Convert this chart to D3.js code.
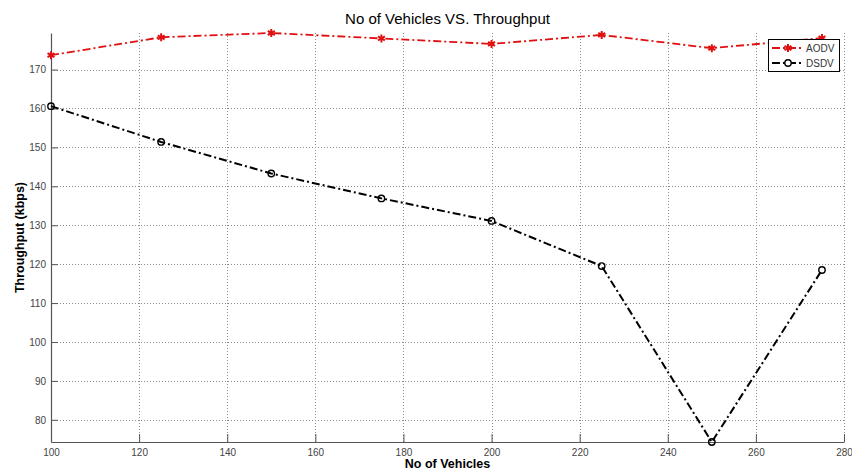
<!DOCTYPE html>
<html>
<head>
<meta charset="utf-8">
<script src="https://cdn.jsdelivr.net/npm/d3@7"></script>
<style>
  body { margin: 0; background: #fff; }
  svg { display: block; font-family: "Liberation Sans", Arial, sans-serif; }
</style>
</head>
<body>
<svg width="852" height="476"></svg>
<script>
// data
var vehicles = [100, 125, 150, 175, 200, 225, 250, 275];
var aodv = [173.7, 178.3, 179.4, 178.0, 176.6, 178.9, 175.5, 178.1];
var dsdv = [160.6, 151.4, 143.3, 136.9, 131.1, 119.5, 74.3, 118.5];
var xTicks = [100, 120, 140, 160, 180, 200, 220, 240, 260, 280];
var yTicks = [80, 90, 100, 110, 120, 130, 140, 150, 160, 170];
var seriesNames = ["AODV", "DSDV"];

const svg = d3.select("svg");
// plot box (note: "top" is taken by window.top)
var plotLeft = 51, plotRight = 844, plotTop = 33, plotBottom = 442;
var dashDot = "8,3,2,3";

var x = d3.scaleLinear().domain([100, 280]).range([plotLeft, plotRight]);
// matlab "axis tight" look: y limits are the data extent
var y = d3.scaleLinear().domain(d3.extent(aodv.concat(dsdv))).range([plotBottom, plotTop]);

// dotted grid
var grid = svg.append("g")
    .attr("stroke", "#8c8c8c")
    .attr("stroke-width", 1)
    .attr("stroke-dasharray", "1,2");
grid.selectAll(".vx")
    .data(xTicks.slice(1))
    .join("line")
      .attr("x1", d => Math.round(x(d)) + 0.5)
      .attr("x2", d => Math.round(x(d)) + 0.5)
      .attr("y1", plotTop)
      .attr("y2", plotBottom);
grid.selectAll(".hy")
    .data(yTicks)
    .join("line")
      .attr("x1", plotLeft)
      .attr("x2", plotRight)
      .attr("y1", d => Math.round(y(d)) + 0.5)
      .attr("y2", d => Math.round(y(d)) + 0.5);

// axes, ticks pointing inward
var xAxis = d3.axisBottom(x).tickValues(xTicks).tickSizeInner(-8).tickSizeOuter(0).tickPadding(5);
var yAxis = d3.axisLeft(y).tickValues(yTicks).tickSizeInner(-7).tickSizeOuter(0).tickPadding(5);

var xg = svg.append("g")
    .attr("transform", "translate(0," + plotBottom + ")")
    .call(xAxis);
var yg = svg.append("g")
    .attr("transform", "translate(" + plotLeft + ",0)")
    .call(yAxis);

[xg, yg].forEach(function(g) {
    g.select(".domain").attr("stroke", "#555").attr("stroke-width", 1.2);
    g.selectAll(".tick line").attr("stroke", "#555");
    g.selectAll(".tick text")
      .attr("fill", "#444")
      .style("font-size", "10px")
      .style("font-family", "'Liberation Sans', Arial, sans-serif");
});
xg.selectAll(".tick text").attr("dy", "0.9em");

// lines
var line = d3.line()
    .x((d, i) => x(vehicles[i]))
    .y(d => y(d));

svg.append("path")
    .datum(aodv)
    .attr("fill", "none")
    .attr("stroke", "#e01010")
    .attr("stroke-width", 1.8)
    .attr("stroke-dasharray", dashDot)
    .attr("d", line);

svg.append("path")
    .datum(dsdv)
    .attr("fill", "none")
    .attr("stroke", "#000")
    .attr("stroke-width", 2)
    .attr("stroke-dasharray", dashDot)
    .attr("d", line);

var star = d3.symbol().type(d3.symbolAsterisk).size(45);

svg.append("g")
    .selectAll("path")
    .data(aodv)
    .join("path")
      .attr("transform", (d, i) => `translate(${x(vehicles[i])},${y(d)})`)
      .attr("d", star)
      .attr("fill", "none")
      .attr("stroke", "#e01010")
      .attr("stroke-width", 2);

svg.append("g")
    .selectAll("circle")
    .data(dsdv)
    .join("circle")
      .attr("cx", (d, i) => x(vehicles[i]))
      .attr("cy", d => y(d))
      .attr("r", 3.2)
      .attr("fill", "none")
      .attr("stroke", "#000")
      .attr("stroke-width", 1.4);

// legend
var lg = svg.append("g");
lg.append("rect")
    .attr("x", 768.5).attr("y", 39.5)
    .attr("width", 71).attr("height", 32)
    .attr("fill", "#fff")
    .attr("stroke", "#000")
    .attr("stroke-width", 1);

seriesNames.forEach(function(name, i) {
    var ry = 48 + i * 15;
    var col = i == 0 ? "#e01010" : "#000";
    lg.append("line")
      .attr("x1", 772).attr("x2", 804)
      .attr("y1", ry).attr("y2", ry)
      .attr("stroke", col)
      .attr("stroke-width", i == 0 ? 1.8 : 2)
      .attr("stroke-dasharray", dashDot);
    if (i == 0) {
        lg.append("path")
          .attr("transform", `translate(788,${ry})`)
          .attr("d", star)
          .attr("fill", "none")
          .attr("stroke", col)
          .attr("stroke-width", 2);
    } else {
        lg.append("circle")
          .attr("cx", 788).attr("cy", ry).attr("r", 3.2)
          .attr("fill", "#fff")
          .attr("stroke", col)
          .attr("stroke-width", 1.4);
    }
    lg.append("text")
      .attr("x", 806).attr("y", ry)
      .attr("dy", "0.35em")
      .attr("fill", "#333")
      .style("font-size", "10px")
      .text(name);
});

// titles
svg.append("text")
    .attr("x", (plotLeft + plotRight) / 2)
    .attr("y", 24)
    .attr("text-anchor", "middle")
    .style("font-size", "15px")
    .text("No of Vehicles VS. Throughput");

svg.append("text")
    .attr("x", (plotLeft + plotRight) / 2)
    .attr("y", 468)
    .attr("text-anchor", "middle")
    .style("font-size", "12.5px")
    .style("font-weight", "bold")
    .text("No of Vehicles");

svg.append("text")
    .attr("transform", "translate(24," + (plotTop + plotBottom) / 2 + ") rotate(-90)")
    .attr("text-anchor", "middle")
    .style("font-size", "12.5px")
    .style("font-weight", "bold")
    .text("Throughput (kbps)");
</script>
</body>
</html>
